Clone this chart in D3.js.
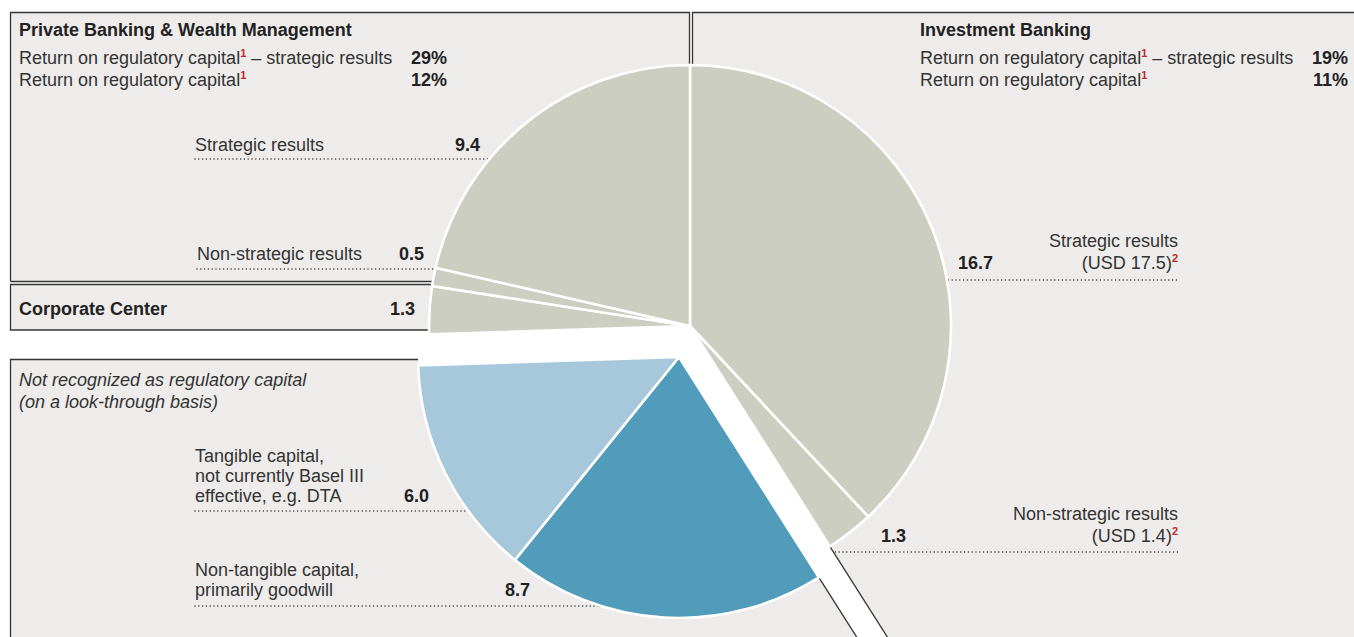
<!DOCTYPE html>
<html><head><meta charset="utf-8">
<script src="https://cdn.jsdelivr.net/npm/d3@7"></script>
<style>
body{margin:0;background:#fff}
svg{display:block}
text{font-family:"Liberation Sans",Arial,sans-serif;font-size:18px;fill:#333}
</style>
</head><body>
<svg id="c" width="1354" height="637"></svg>
<script>
// ---------------- data ----------------
const segmentNames = ["IB strategic","IB non-strategic","Non-tangible capital","Tangible capital","Corporate Center","PB non-strategic","PB strategic"];
const segmentValues = [16.7, 1.3, 8.7, 6.0, 1.3, 0.5, 9.4];
const segmentGroup = ["core","core","excluded","excluded","core","core","core"];
const divisionTitles = ["Private Banking & Wealth Management","Investment Banking"];
const returnLabel = ["Return on regulatory capital", " \u2013 strategic results"];
const pbReturns = [29, 12];
const ibReturns = [19, 11];
const usdValues = [17.5, 1.4];
const excludedTitle = ["Not recognized as regulatory capital","(on a look-through basis)"];

// ---------------- setup ----------------
const W = 1354, H = 637;
const svg = d3.select("#c");
const COL = {panel:"#edecea", border:"#353535", core:"#cbcec1", tangible:"#a6c8da", nontangible:"#509cba", red:"#c1272d", dots:"#333"};
const sliceFill = {"Non-tangible capital":COL.nontangible, "Tangible capital":COL.tangible};
const C1 = [690, 326], R = 261, OFF = [-11, 31];
const C2 = [C1[0]+OFF[0], C1[1]+OFF[1]];
const fmt = d3.format(".1f");

const pieData = d3.pie().sort(null).value(d => d)(segmentValues);
const arcGen = d3.arc().innerRadius(0).outerRadius(R);
const firstEx = segmentGroup.indexOf("excluded"), lastEx = segmentGroup.lastIndexOf("excluded");
const aR = pieData[firstEx].startAngle, aL = pieData[lastEx].endAngle;
const dir = a => [Math.sin(a), -Math.cos(a)];
const along = (c, a, t) => [c[0] + t*dir(a)[0], c[1] + t*dir(a)[1]];
const atY = (c, a, y) => along(c, a, (y - c[1]) / dir(a)[1]);
const line = d3.line();

// ---------------- panel fills ----------------
const gFill = svg.append("g");
const fillPoly = pts => gFill.append("path").attr("d", line(pts) + "Z").attr("fill", COL.panel);
fillPoly([[10.5,12.5],[689.5,12.5],[689.5,281.5],[10.5,281.5]]);
fillPoly([[10.5,284.5],[445,284.5],[445,330],[10.5,330]]);
const Q = atY(C2, aR, 359.5), P2 = atY(C2, aR, H + 30);
fillPoly([[10.5,359.5], Q, P2, [10.5, H + 30]]);
const Rp = along(C1, aR, (692.5 - C1[0]) / dir(aR)[0]), P1 = atY(C1, aR, H + 30);
fillPoly([[692.5,12.5],[W + 30,12.5],[W + 30,H + 30], P1, Rp]);

// white gap band between regulatory and non-regulatory parts
svg.append("path")
  .attr("d", line([along(C1,aL,R+1), C1, along(C1,aR,1500), along(C2,aR,1500), C2, along(C2,aL,R+1)]) + "Z")
  .attr("fill", "#fff");

// ---------------- panel borders ----------------
const gB = svg.append("g").attr("stroke", COL.border).attr("stroke-width", 1.3).attr("fill", "none");
const seg = pts => gB.append("path").attr("d", line(pts));
seg([[10.5,281.5],[10.5,12.5],[689.5,12.5],[689.5,281.5],[10.5,281.5]]);
seg([[445,284.5],[10.5,284.5],[10.5,330],[445,330]]);
const nrEdgeX = C2[0] - Math.sqrt(R*R - (359.5 - C2[1])**2);
seg([[nrEdgeX,359.5],[10.5,359.5],[10.5,H+30]]);
seg([along(C2,aR,R), P2]);
seg([[692.5,200],[692.5,12.5],[W+30,12.5]]);
seg([along(C1,aR,R), P1]);

// ---------------- dotted leader lines ----------------
const gD = svg.append("g").attr("stroke", COL.dots).attr("stroke-width", 1.5)
  .attr("stroke-dasharray", "0 3.8").attr("stroke-linecap", "round");
const leftLeaders = [[195,159,C1[0]],[197,269,C1[0]],[195,511,C2[0]],[195,606,C2[0]]];
leftLeaders.forEach(([x1,y,x2]) => gD.append("line").attr("x1",x1).attr("x2",x2).attr("y1",y).attr("y2",y));
[280, 552].forEach(y => {
  let x1 = C1[0];
  if (y > C1[1]) x1 = Math.max(x1, atY(C1, aR, y)[0] + 2);
  gD.append("line").attr("x1",x1).attr("x2",1180).attr("y1",y).attr("y2",y);
});

// ---------------- pie ----------------
svg.append("g").selectAll("path").data(pieData).join("path")
  .attr("transform", (d,i) => `translate(${segmentGroup[i]==="excluded" ? C2 : C1})`)
  .attr("d", arcGen)
  .attr("fill", (d,i) => sliceFill[segmentNames[i]] || COL.core)
  .attr("stroke", "#fff").attr("stroke-width", 2.6).attr("stroke-linejoin", "round");

// ---------------- text ----------------
const gT = svg.append("g");
function txt(x, y, s, o = {}) {
  const t = gT.append("text").attr("x", x).attr("y", y).text(s);
  if (o.bold) t.attr("font-weight", "bold").style("fill", "#222");
  if (o.title) t.attr("font-size", 18.6);
  if (o.italic) t.attr("font-style", "italic");
  if (o.anchor) t.attr("text-anchor", o.anchor);
  return t;
}
function sup(t, s, after) {
  t.append("tspan").attr("dy", -7).attr("font-size", 11).attr("font-weight", "bold").style("fill", COL.red).text(s);
  if (after) t.append("tspan").attr("dy", 7).text(after);
}
const idx = n => segmentNames.indexOf(n);

// division headers
[[19, 447, divisionTitles[0], pbReturns], [920, 1348, divisionTitles[1], ibReturns]].forEach(([x, xr, title, rets]) => {
  txt(x, 36, title, {bold:true, title:true});
  const t1 = txt(x, 64, returnLabel[0]); sup(t1, "1", returnLabel[1]);
  txt(xr, 64, rets[0] + "%", {bold:true, anchor:"end"});
  const t2 = txt(x, 86, returnLabel[0]); sup(t2, "1");
  txt(xr, 86, rets[1] + "%", {bold:true, anchor:"end"});
});

// PB labels
txt(195, 151, "Strategic results");
txt(480, 151, fmt(segmentValues[idx("PB strategic")]), {bold:true, anchor:"end"});
txt(197, 260, "Non-strategic results");
txt(424, 260, fmt(segmentValues[idx("PB non-strategic")]), {bold:true, anchor:"end"});
txt(19, 315, "Corporate Center", {bold:true, title:true});
txt(415, 315, fmt(segmentValues[idx("Corporate Center")]), {bold:true, anchor:"end"});

// excluded capital
txt(19, 386, excludedTitle[0], {italic:true});
txt(19, 408, excludedTitle[1], {italic:true});
["Tangible capital,","not currently Basel III","effective, e.g. DTA"].forEach((s,i) => txt(195, 462 + i*20, s));
txt(429, 502, fmt(segmentValues[idx("Tangible capital")]), {bold:true, anchor:"end"});
["Non-tangible capital,","primarily goodwill"].forEach((s,i) => txt(195, 576 + i*20, s));
txt(530, 596, fmt(segmentValues[idx("Non-tangible capital")]), {bold:true, anchor:"end"});

// IB labels
txt(1178, 247, "Strategic results", {anchor:"end"});
sup(txt(1178, 269, `(USD ${fmt(usdValues[0])})`, {anchor:"end"}), "2");
txt(958, 269, fmt(segmentValues[idx("IB strategic")]), {bold:true});
txt(1178, 520, "Non-strategic results", {anchor:"end"});
sup(txt(1178, 542, `(USD ${fmt(usdValues[1])})`, {anchor:"end"}), "2");
txt(881, 542, fmt(segmentValues[idx("IB non-strategic")]), {bold:true});
</script>
</body></html>
